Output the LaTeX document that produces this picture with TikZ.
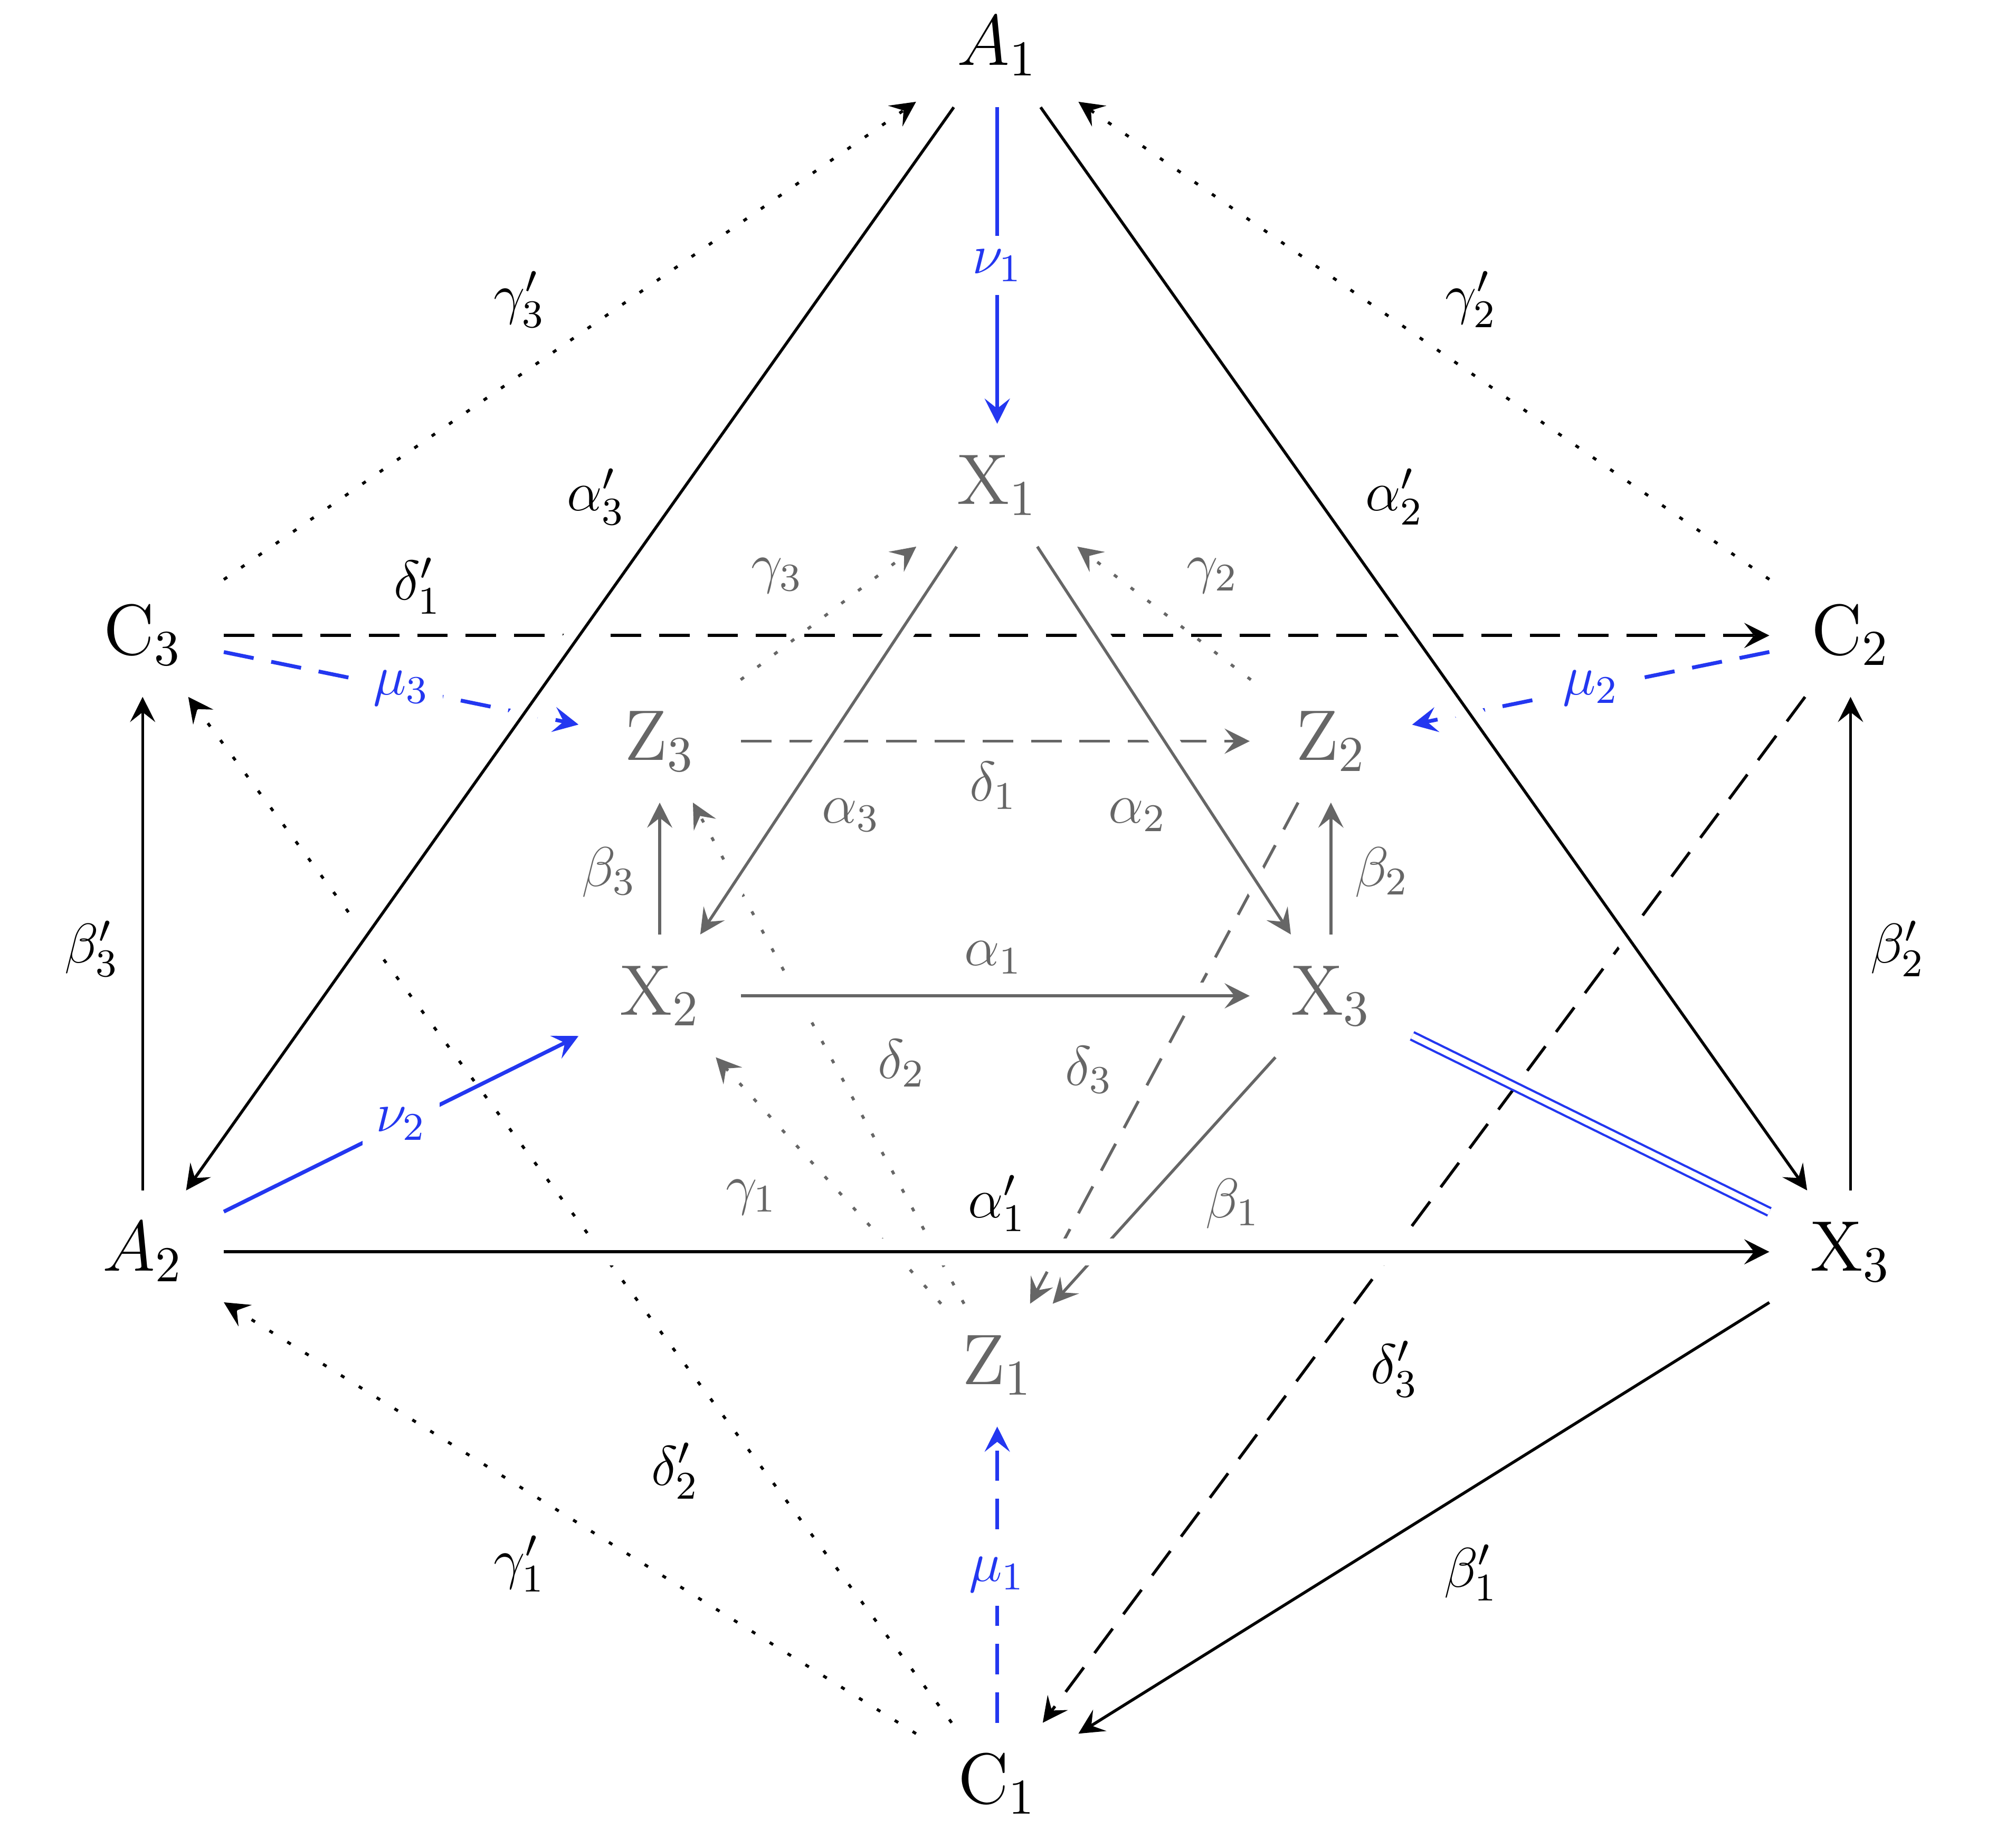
\RequirePackage{fix-cm}
\documentclass[tikz,border=0pt]{standalone}
\usepackage{amsmath}
\usetikzlibrary{arrows.meta}
\definecolor{gr}{RGB}{102,102,102}
\definecolor{bl}{RGB}{35,55,240}
\tikzset{
  nd/.style={rectangle, inner sep=0pt, minimum width=1.26cm, minimum height=0.95cm, font=\fontsize{16}{19}\selectfont},
  gnd/.style={nd, text=gr},
  lbl/.style={inner sep=1pt, font=\fontsize{12.5}{15}\selectfont},
  glbl/.style={lbl, text=gr},
  blbl/.style={lbl, text=bl, fill=white, inner sep=3pt},
  ar/.style={-{Stealth[length=5.6pt,width=5.6pt,inset=2.2pt]}, line width=0.65pt},
  blw/.style={draw=bl, line width=0.85pt},
  dsh/.style={dash pattern=on 6.8pt off 4pt},
  dtt/.style={dash pattern=on 0.9pt off 3.8pt},
  over/.style={preaction={draw=white, line width=6pt, -, solid}},
}
\begin{document}
\begin{tikzpicture}[x=0.01cm,y=-0.01cm]
\useasboundingbox (0,0) rectangle (1568,1451);

% nodes
\node[nd]  (A1)  at (783,36)    {$A_1$};
\node[gnd] (X1)  at (783,381)   {$\mathrm{X}_1$};
\node[nd]  (C3)  at (112,499)   {$\mathrm{C}_3$};
\node[nd]  (C2)  at (1453,499)  {$\mathrm{C}_2$};
\node[gnd] (Z3)  at (518,582)   {$\mathrm{Z}_3$};
\node[gnd] (Z2)  at (1045,582)  {$\mathrm{Z}_2$};
\node[gnd] (X2)  at (518,782)   {$\mathrm{X}_2$};
\node[gnd] (X3i) at (1045,782)  {$\mathrm{X}_3$};
\node[nd]  (A2)  at (112,983)   {$A_2$};
\node[nd]  (X3o) at (1453,983)  {$\mathrm{X}_3$};
\node[gnd] (Z1)  at (783,1072)  {$\mathrm{Z}_1$};
\node[nd]  (C1)  at (783,1401)  {$\mathrm{C}_1$};

% lower layer (crossed under)
\draw[ar, dsh] (C3) -- (C2);
\draw[ar, blw, dsh] (C3) -- node[blbl] (m3) {$\mu_3$} (Z3);
\draw[ar, blw, dsh] (C2) -- node[blbl] (m2) {$\mu_2$} (Z2);
\draw[ar, dtt] (C1) -- (C3);
\draw[ar, dsh] (C2) -- (C1);
\draw[ar, gr, dsh] (Z3) -- (Z2);
\draw[ar, gr, dsh] (Z2) -- (Z1);
\draw[ar, gr, dtt] (Z1) -- (Z3);
\draw[ar, gr, dtt] (Z1) -- (X2);
\draw[ar, gr] (X3i) -- (Z1);

% crossing-over layer
\draw[ar, over] (A2) -- (X3o);
\draw[ar, over] (A1) -- (X3o);
\draw[ar, over] (A1) -- (A2);
\draw[ar, gr, over] (X2) -- (X3i);
\draw[ar, gr, over] (X1) -- (X3i);
\draw[ar, gr, over] (X1) -- (X2);

% top layer
\draw[ar] (A2) -- (C3);
\draw[ar] (X3o) -- (C2);
\draw[ar] (X3o) -- (C1);
\draw[ar, dtt] (C1) -- (A2);
\draw[ar, dtt] (C2) -- (A1);
\draw[ar, dtt] (C3) -- (A1);
\draw[ar, gr] (X2) -- (Z3);
\draw[ar, gr] (X3i) -- (Z2);
\draw[ar, gr, dtt] (Z3) -- (X1);
\draw[ar, gr, dtt] (Z2) -- (X1);
\draw[draw=bl, line width=0.5pt, double=white, double distance=1.3pt] (X3i) -- (X3o);
\draw[ar, blw] (A1) -- node[blbl] (n1) {$\nu_1$} (X1);
\draw[ar, blw] (A2) -- node[blbl] (n2) {$\nu_2$} (X2);
\draw[ar, blw, dsh] (C1) -- node[blbl] (m1) {$\mu_1$} (Z1);

% labels
\node[lbl]  (lg3p) at (408,235)  {$\gamma'_3$};
\node[lbl]  (la3p) at (468,390)  {$\alpha'_3$};
\node[lbl]  (lg2p) at (1155,235) {$\gamma'_2$};
\node[lbl]  (la2p) at (1095,390) {$\alpha'_2$};
\node[lbl]  (ld1p) at (328,460)  {$\delta'_1$};
\node[glbl] (lg3)  at (610,452)  {$\gamma_3$};
\node[glbl] (lg2)  at (952,452)  {$\gamma_2$};
\node[glbl] (ld1)  at (780,617)  {$\delta_1$};
\node[glbl] (la3)  at (668,640)  {$\alpha_3$};
\node[glbl] (la2)  at (893,640)  {$\alpha_2$};
\node[glbl] (lb3)  at (478,685)  {$\beta_3$};
\node[glbl] (lb2)  at (1085,685) {$\beta_2$};
\node[lbl]  (lb3p) at (72,745)   {$\beta'_3$};
\node[lbl]  (lb2p) at (1490,745) {$\beta'_2$};
\node[glbl] (la1)  at (780,752)  {$\alpha_1$};
\node[glbl] (ld2)  at (708,835)  {$\delta_2$};
\node[glbl] (ld3)  at (855,840)  {$\delta_3$};
\node[glbl] (lg1)  at (590,940)  {$\gamma_1$};
\node[lbl]  (la1p) at (783,945)  {$\alpha'_1$};
\node[glbl] (lb1)  at (968,945)  {$\beta_1$};
\node[lbl]  (ld3p) at (1095,1075) {$\delta'_3$};
\node[lbl]  (ld2p) at (530,1155) {$\delta'_2$};
\node[lbl]  (lg1p) at (408,1228) {$\gamma'_1$};
\node[lbl]  (lb1p) at (1155,1235) {$\beta'_1$};
\end{tikzpicture}
\end{document}
